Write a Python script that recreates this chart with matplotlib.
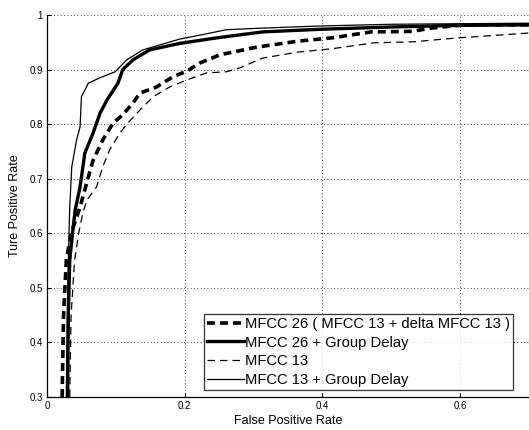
import matplotlib
matplotlib.use('Agg')
import matplotlib.pyplot as plt

# ROC curves
fpr_mfcc26 = [0.022, 0.024, 0.028, 0.035, 0.048, 0.060, 0.067, 0.081, 0.096, 0.110, 0.125,
              0.135, 0.159, 0.183, 0.203, 0.222, 0.251, 0.304, 0.364, 0.413, 0.471, 0.530,
              0.558, 0.606, 0.700]
tpr_mfcc26 = [0.300, 0.450, 0.550, 0.600, 0.648, 0.703, 0.734, 0.771, 0.802, 0.817, 0.839,
              0.857, 0.868, 0.887, 0.897, 0.912, 0.927, 0.941, 0.952, 0.958, 0.969, 0.970,
              0.976, 0.982, 0.982]

fpr_mfcc26_gd = [0.030, 0.031, 0.033, 0.037, 0.041, 0.048, 0.055, 0.067, 0.077, 0.087, 0.103,
                 0.110, 0.125, 0.149, 0.193, 0.246, 0.313, 0.400, 0.500, 0.600, 0.700]
tpr_mfcc26_gd = [0.300, 0.450, 0.550, 0.600, 0.643, 0.685, 0.747, 0.784, 0.820, 0.844, 0.875,
                 0.900, 0.918, 0.936, 0.948, 0.958, 0.969, 0.974, 0.978, 0.981, 0.982]

fpr_mfcc13 = [0.033, 0.035, 0.040, 0.046, 0.052, 0.058, 0.072, 0.081, 0.091, 0.106, 0.116,
              0.135, 0.154, 0.178, 0.203, 0.232, 0.261, 0.280, 0.313, 0.364, 0.413, 0.475,
              0.533, 0.596, 0.654, 0.700]
tpr_mfcc13 = [0.300, 0.450, 0.550, 0.600, 0.637, 0.661, 0.685, 0.722, 0.753, 0.784, 0.800,
              0.826, 0.850, 0.868, 0.881, 0.894, 0.896, 0.903, 0.921, 0.932, 0.938, 0.949,
              0.951, 0.958, 0.963, 0.967]

fpr_mfcc13_gd = [0.028, 0.030, 0.032, 0.033, 0.036, 0.043, 0.048, 0.050, 0.060, 0.077, 0.099,
                 0.116, 0.139, 0.193, 0.222, 0.260, 0.313, 0.400, 0.500, 0.600, 0.700]
tpr_mfcc13_gd = [0.300, 0.500, 0.600, 0.648, 0.722, 0.771, 0.795, 0.850, 0.875, 0.885, 0.896,
                 0.918, 0.936, 0.956, 0.963, 0.973, 0.976, 0.980, 0.983, 0.984, 0.985]

labels = ['MFCC 26 ( MFCC 13 + delta MFCC 13 )', 'MFCC 26 + Group Delay',
          'MFCC 13', 'MFCC 13 + Group Delay']

x_ticks = [0, 0.2, 0.4, 0.6]
x_tick_labels = ['0', '0.2', '0.4', '0.6']
y_ticks = [0.3, 0.4, 0.5, 0.6, 0.7, 0.8, 0.9, 1.0]
y_tick_labels = ['0.3', '0.4', '0.5', '0.6', '0.7', '0.8', '0.9', '1']

plt.rcParams['font.family'] = ['Liberation Sans', 'DejaVu Sans']

fig = plt.figure(figsize=(5.29, 4.30), dpi=100)
ax = fig.add_axes([47 / 529, 33 / 430, 482 / 529, 382 / 430])

ax.plot(fpr_mfcc26, tpr_mfcc26, color='black', lw=2.6, dashes=(2.2, 1.4), label=labels[0])
ax.plot(fpr_mfcc26_gd, tpr_mfcc26_gd, color='black', lw=2.4, label=labels[1])
ax.plot(fpr_mfcc13, tpr_mfcc13, color='black', lw=0.9, dashes=(6, 4), label=labels[2])
ax.plot(fpr_mfcc13_gd, tpr_mfcc13_gd, color='black', lw=0.9, label=labels[3])

ax.set_xlim(0, 0.7)
ax.set_ylim(0.3, 1.0)
ax.set_xticks(x_ticks)
ax.set_xticklabels(x_tick_labels)
ax.set_yticks(y_ticks)
ax.set_yticklabels(y_tick_labels)
ax.tick_params(direction='in', length=3, labelsize=7, colors='black', pad=3)

ax.grid(True, color='black', linestyle=(0, (1, 3)), linewidth=0.6)
ax.spines['top'].set_visible(False)
ax.spines['right'].set_visible(False)
for s in ('left', 'bottom'):
    ax.spines[s].set_linewidth(0.9)

ax.set_xlabel('False Positive Rate', fontsize=9, labelpad=3)
ax.set_ylabel('Ture Positive Rate', fontsize=9, labelpad=6)

leg = ax.legend(loc='lower left', bbox_to_anchor=((204 - 47) / 482, (397 - 390) / 382),
                fontsize=10.6, frameon=True, fancybox=False, handlelength=2.5,
                handletextpad=0.1, borderpad=0.2, labelspacing=0.32, borderaxespad=0)
leg.get_frame().set_edgecolor('black')
leg.get_frame().set_linewidth(0.9)

fig.savefig('out.png', dpi=100, facecolor='white')
